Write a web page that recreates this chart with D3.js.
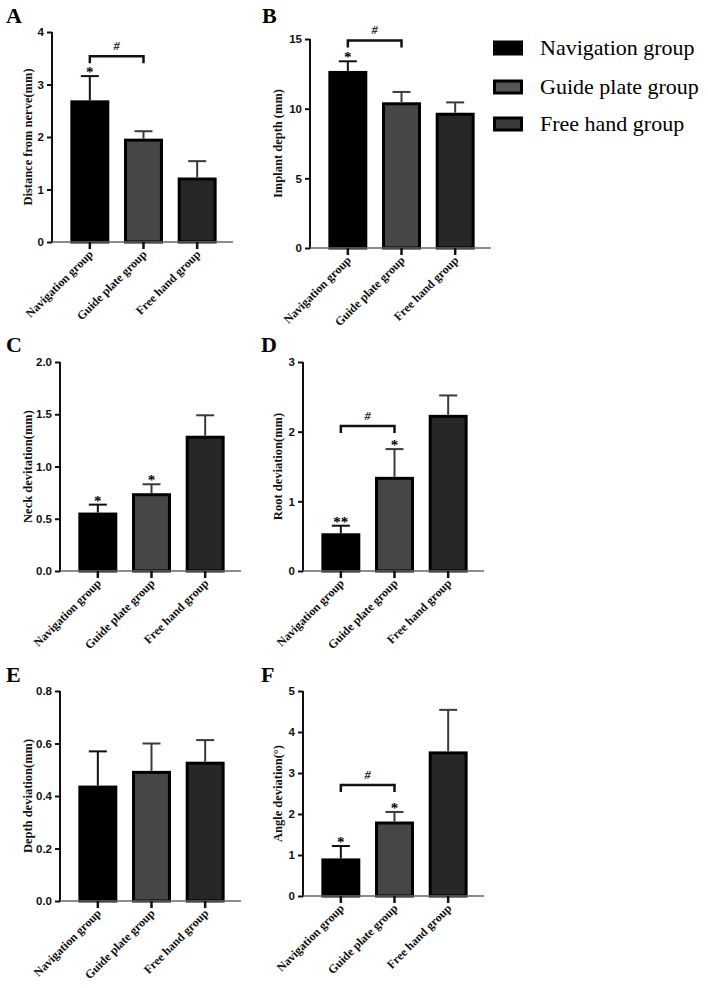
<!DOCTYPE html>
<html>
<head>
<meta charset="utf-8">
<script src="https://cdn.jsdelivr.net/npm/d3@7"></script>
<style>
  body { margin: 0; background: #fff; }
  svg { display: block; }
</style>
</head>
<body>
<div id="chart"></div>
<script>
// groups on the x axis
const groups = ["Navigation group", "Guide plate group", "Free hand group"];
const barColors = ["#000000", "#464646", "#272727"];

// values (mean and upper error)
const distanceMean = [2.67, 1.94, 1.20];
const distanceSd = [0.49, 0.17, 0.34];
const depthMean = [12.6, 10.35, 9.6];
const depthSd = [0.8, 0.85, 0.85];
const neckMean = [0.545, 0.73, 1.28];
const neckSd = [0.09, 0.10, 0.21];
const rootMean = [0.52, 1.33, 2.22];
const rootSd = [0.13, 0.42, 0.30];
const depthDevMean = [0.434, 0.49, 0.525];
const depthDevSd = [0.136, 0.11, 0.088];
const angleMean = [0.88, 1.78, 3.49];
const angleSd = [0.34, 0.27, 1.05];

// significance marks
const starsA = ["*", "", ""];
const starsB = ["*", "", ""];
const starsC = ["*", "*", ""];
const starsD = ["**", "*", ""];
const starsE = ["", "", ""];
const starsF = ["*", "*", ""];

// y axis ticks
const ticksA = [0, 1, 2, 3, 4];
const ticksB = [0, 5, 10, 15];
const ticksC = [0, 0.5, 1.0, 1.5, 2.0];
const ticksD = [0, 1, 2, 3];
const ticksE = [0, 0.2, 0.4, 0.6, 0.8];
const ticksF = [0, 1, 2, 3, 4, 5];

const serif = "'Liberation Serif', 'Times New Roman', serif";
const sans = "'Liberation Sans', Arial, sans-serif";

const svg = d3.select("#chart").append("svg")
  .attr("width", 708)
  .attr("height", 988);

// draws one bar panel
function drawPanel(p) {
  const g = svg.append("g");

  const y = d3.scaleLinear().domain([0, d3.max(p.ticks)]).range([p.bottom, p.top]);
  const x = d3.scaleBand().domain(groups)
    .range([p.axisX, p.axisX + 183])
    .paddingInner(0.33)
    .paddingOuter(0.37);

  // bars
  g.selectAll(".bar")
    .data(p.mean)
    .join("rect")
    .attr("x", (d, i) => x(groups[i]))
    .attr("y", d => y(d))
    .attr("width", x.bandwidth())
    .attr("height", d => p.bottom - y(d))
    .style("fill", (d, i) => barColors[i])
    .style("stroke", "#000")
    .style("stroke-width", 3);

  // error bars (upper only)
  const err = g.selectAll(".err")
    .data(p.mean)
    .join("g")
    .attr("transform", (d, i) => "translate(" + (x(groups[i]) + x.bandwidth() / 2) + ",0)");
  err.append("line")
    .attr("y1", d => y(d) - 1.5)
    .attr("y2", (d, i) => y(d + p.sd[i]))
    .style("stroke", (d, i) => i == 0 ? "#111" : "#3a3a3a")
    .style("stroke-width", 2);
  err.append("line")
    .attr("x1", -9).attr("x2", 9)
    .attr("y1", (d, i) => y(d + p.sd[i]))
    .attr("y2", (d, i) => y(d + p.sd[i]))
    .style("stroke", (d, i) => i == 0 ? "#111" : "#3a3a3a")
    .style("stroke-width", 2);
  err.append("text")
    .attr("y", (d, i) => y(d + p.sd[i]) + 1)
    .attr("text-anchor", "middle")
    .style("font-family", serif)
    .style("font-weight", "bold")
    .style("font-size", "15px")
    .style("fill", "#000")
    .text((d, i) => p.stars[i]);

  // y axis
  const yAxis = g.append("g")
    .attr("transform", "translate(" + p.axisX + ",0)")
    .call(d3.axisLeft(y).tickValues(p.ticks).tickSize(5).tickPadding(3)
      .tickFormat(p.format));
  yAxis.select(".domain").attr("d", "M0," + (p.bottom + 1) + "V" + p.top)
    .style("stroke", "#111").style("stroke-width", 2);
  yAxis.selectAll(".tick line").style("stroke", "#111").style("stroke-width", 2);
  yAxis.selectAll(".tick text")
    .style("font-family", sans)
    .style("font-weight", "bold")
    .style("font-size", "11.5px")
    .style("fill", "#111");

  // x axis
  const xAxis = g.append("g")
    .attr("transform", "translate(0," + p.bottom + ")")
    .call(d3.axisBottom(x).tickSize(7).tickFormat(""));
  xAxis.select(".domain").attr("d", "M" + p.axisX + ",0H" + (p.axisX + 181))
    .style("stroke", "#666").style("stroke-width", 1.5);
  xAxis.selectAll(".tick line").style("stroke", "#111").style("stroke-width", 2.5);
  xAxis.selectAll(".tick").append("text")
    .attr("transform", "translate(4,13) rotate(-45)")
    .attr("text-anchor", "end")
    .style("font-family", serif)
    .style("font-weight", "bold")
    .style("font-size", "12px")
    .style("fill", "#111")
    .text(d => d);

  // bracket with #
  if (p.bracket != null) {
    const x1 = x(groups[0]) + x.bandwidth() / 2;
    const x2 = x(groups[1]) + x.bandwidth() / 2;
    const by = y(p.bracket);
    g.append("path")
      .attr("d", "M" + x1 + "," + (by + 7) + "V" + by + "H" + x2 + "V" + (by + 7))
      .style("fill", "none")
      .style("stroke", "#111")
      .style("stroke-width", 2.5);
    g.append("text")
      .attr("x", (x1 + x2) / 2)
      .attr("y", by - 6)
      .attr("text-anchor", "middle")
      .style("font-family", serif)
      .style("font-weight", "bold")
      .style("font-style", "italic")
      .style("font-size", "12.5px")
      .style("fill", "#222")
      .text("#");
  }

  // y axis title
  g.append("text")
    .attr("transform", "translate(" + (p.axisX - p.labelOff) + "," + ((p.top + p.bottom) / 2) + ") rotate(-90)")
    .attr("text-anchor", "middle")
    .attr("dominant-baseline", "central")
    .style("font-family", serif)
    .style("font-weight", "bold")
    .style("font-size", "12.5px")
    .style("fill", "#111")
    .text(p.title);

  // panel letter
  g.append("text")
    .attr("x", p.letterX)
    .attr("y", p.letterY)
    .style("font-family", serif)
    .style("font-weight", "bold")
    .style("font-size", "22px")
    .style("fill", "#000")
    .text(p.letter);
}

const fInt = d3.format("d");
const fOne = d3.format(".1f");

drawPanel({ letter: "A", letterX: 6, letterY: 23, axisX: 52, top: 32, bottom: 242,
  mean: distanceMean, sd: distanceSd, stars: starsA, ticks: ticksA, format: fInt,
  bracket: 3.54, title: "Distance from nerve(mm)", labelOff: 24 });
drawPanel({ letter: "B", letterX: 262, letterY: 23, axisX: 310, top: 39, bottom: 248,
  mean: depthMean, sd: depthSd, stars: starsB, ticks: ticksB, format: fInt,
  bracket: 14.9, title: "Implant depth (mm)", labelOff: 32 });
drawPanel({ letter: "C", letterX: 6, letterY: 352, axisX: 60, top: 362, bottom: 571,
  mean: neckMean, sd: neckSd, stars: starsC, ticks: ticksC, format: fOne,
  bracket: null, title: "Neck devitation(mm)", labelOff: 32 });
drawPanel({ letter: "D", letterX: 261, letterY: 352, axisX: 303, top: 362, bottom: 571,
  mean: rootMean, sd: rootSd, stars: starsD, ticks: ticksD, format: fInt,
  bracket: 2.08, title: "Root deviation(mm)", labelOff: 25 });
drawPanel({ letter: "E", letterX: 6, letterY: 682, axisX: 60, top: 691, bottom: 901,
  mean: depthDevMean, sd: depthDevSd, stars: starsE, ticks: ticksE, format: fOne,
  bracket: null, title: "Depth deviation(mm)", labelOff: 32 });
drawPanel({ letter: "F", letterX: 261, letterY: 682, axisX: 303, top: 691, bottom: 896,
  mean: angleMean, sd: angleSd, stars: starsF, ticks: ticksF, format: fInt,
  bracket: 2.71, title: "Angle deviation(°)", labelOff: 25 });

// legend
const legend = svg.append("g").attr("transform", "translate(493,0)");
const legendY = [48, 87, 124];
const item = legend.selectAll(".item")
  .data(groups)
  .join("g")
  .attr("transform", (d, i) => "translate(0," + legendY[i] + ")");
item.append("rect")
  .attr("x", 1.5).attr("y", -6)
  .attr("width", 27).attr("height", 12)
  .style("fill", (d, i) => i == 0 ? "#000" : i == 1 ? "#555" : "#3a3a3a")
  .style("stroke", "#000")
  .style("stroke-width", 3);
item.append("text")
  .attr("x", 47)
  .attr("y", 7)
  .style("font-family", serif)
  .style("font-size", "22px")
  .style("fill", "#000")
  .text(d => d);
</script>
</body>
</html>
